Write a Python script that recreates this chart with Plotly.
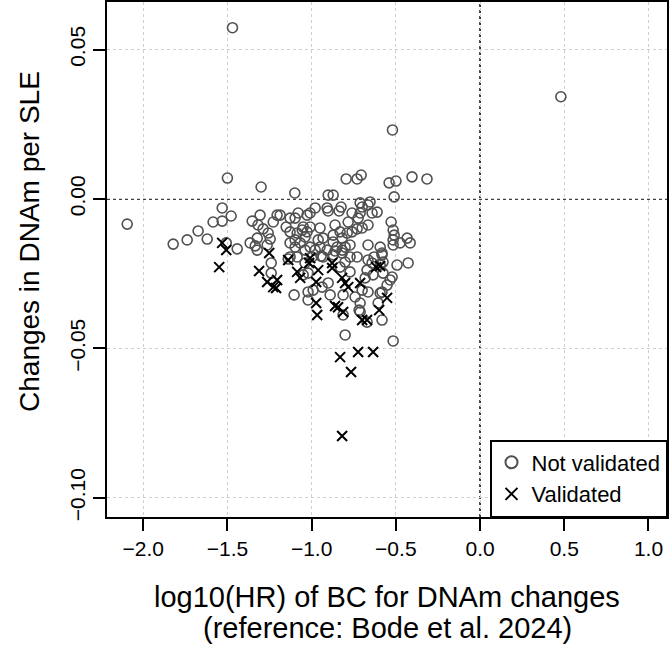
import plotly.graph_objects as go

# Not validated (open circles)
not_val_x = [-1.47, 0.48, -0.52, -1.50, -1.30, -1.10, -0.795, -0.73, -0.706, -0.54, -0.499, -0.404, -0.315, -0.51, -0.902, -0.872,
             -2.095, -1.531, -1.478, -1.585, -1.531, -1.674, -1.62, -1.739, -1.822, -1.442, -1.507,
             -1.353, -1.306, -1.205, -1.228, -1.318, -1.288, -1.258, -1.323, -1.246, -1.365, -1.335, -1.323, -1.264, -1.24, -1.24, -1.139,
             -1.187, -1.128, -1.098, -1.08, -1.009, -0.979, -0.908, -0.902, -0.837, -0.825, -0.712, -0.70, -0.653, -0.665, -0.641, -0.611,
             -0.528, -0.712, -0.76, -0.783, -0.724, -0.861, -0.95, -1.009, -1.05, -1.086, -1.128, -1.098, -1.039, -1.056, -1.027, -1.151,
             -0.872, -0.831, -0.789, -0.76, -0.73, -0.70, -0.665, -0.872, -0.819, -0.801, -0.772, -0.849, -0.861, -0.819, -0.932, -0.961,
             -0.95, -0.979, -1.009, -1.098, -1.128, -1.068, -1.039, -0.932, -0.908, -0.772, -0.801, -0.73, -0.665, -0.641, -0.593, -0.576,
             -0.582, -0.516, -0.51, -0.516, -0.475, -0.433, -0.415, -0.493, -0.427, -0.665, -0.593, -0.516,
             -1.128, -1.086, -1.039, -1.021, -1.104, -1.021, -1.021, -0.997, -0.944, -0.872, -0.819, -1.05, -0.991, -0.938, -0.902, -0.89,
             -0.813, -0.772, -0.831, -0.742, -0.712, -0.718, -0.70, -0.665, -0.682, -0.671, -0.635, -0.629, -0.582, -0.576, -0.593, -0.605,
             -0.582, -0.552, -0.534, -0.522, -0.813, -0.801, -0.516, -0.671, -0.712, -0.582, -1.027]
not_val_y = [0.0573, 0.0342, 0.0231, 0.0070, 0.0040, 0.0020, 0.0067, 0.0067, 0.0080, 0.0054, 0.0060, 0.0074, 0.0067, 0.0007, 0.0013, 0.0013,
             -0.0084, -0.0030, -0.0057, -0.0077, -0.0074, -0.0107, -0.0134, -0.0137, -0.0151, -0.0167, -0.0147,
             -0.0074, -0.0054, -0.0054, -0.0077, -0.0087, -0.0100, -0.0114, -0.0131, -0.0134, -0.0147, -0.0157, -0.0171, -0.0154, -0.0214, -0.0248, -0.0201,
             -0.0054, -0.0064, -0.0064, -0.0047, -0.0047, -0.0030, -0.0030, -0.0040, -0.0040, -0.0027, -0.0013, -0.0027, -0.0010, -0.0020, -0.0047, -0.0044,
             -0.0077, -0.0047, -0.0047, -0.0077, -0.0064, -0.0087, -0.0097, -0.0094, -0.0094, -0.0114, -0.0110, -0.0137, -0.0127, -0.0104, -0.0110, -0.0094,
             -0.0121, -0.0110, -0.0114, -0.0110, -0.0100, -0.0097, -0.0087, -0.0144, -0.0131, -0.0161, -0.0154, -0.0161, -0.0174, -0.0171, -0.0131, -0.0137,
             -0.0161, -0.0171, -0.0161, -0.0161, -0.0147, -0.0147, -0.0171, -0.0194, -0.0171, -0.0194, -0.0211, -0.0194, -0.0204, -0.0214, -0.0221, -0.0211,
             -0.0181, -0.0104, -0.0121, -0.0137, -0.0147, -0.0131, -0.0147, -0.0221, -0.0214, -0.0154, -0.0161, -0.0154,
             -0.0194, -0.0194, -0.0214, -0.0248, -0.0321, -0.0311, -0.0338, -0.0194, -0.0191, -0.0187, -0.0181, -0.0254, -0.0305, -0.0295, -0.0281, -0.0321,
             -0.0321, -0.0244, -0.0228, -0.0328, -0.0348, -0.0372, -0.0305, -0.0311, -0.0264, -0.0238, -0.0254, -0.0194, -0.0187, -0.0248, -0.0315, -0.0348,
             -0.0405, -0.0288, -0.0271, -0.0261, -0.0388, -0.0455, -0.0475, -0.0412, -0.0378, -0.0311, -0.0054]

# Validated (crosses)
val_x = [-1.531, -1.507, -1.549, -1.252, -1.139, -1.312, -1.264, -1.228, -1.211, -1.205, -1.086, -1.068, -1.015, -0.961, -0.973,
         -0.973, -0.967, -1.009, -0.878, -0.878, -0.819, -0.801, -0.783, -0.712, -0.70, -0.671, -0.593, -0.617, -0.552, -0.599,
         -0.861, -0.843, -0.813, -0.831, -0.724, -0.635, -0.766, -0.819]
val_y = [-0.0147, -0.0171, -0.0228, -0.0181, -0.0204, -0.0241, -0.0278, -0.0295, -0.0298, -0.0271, -0.0244, -0.0264, -0.0214, -0.0238, -0.0278,
         -0.0348, -0.0388, -0.0198, -0.0214, -0.0231, -0.0264, -0.0281, -0.0295, -0.0281, -0.0405, -0.0405, -0.0224, -0.0228, -0.0331, -0.0372,
         -0.0358, -0.0362, -0.0378, -0.0529, -0.0512, -0.0512, -0.0579, -0.0793]

x_range = [-2.215, 1.11]
y_range = [-0.1064, 0.0659]

x_title_1 = "log10(HR) of BC for DNAm changes"
x_title_2 = "(reference: Bode et al. 2024)"
y_title = "Changes in DNAm per SLE"

FONT = "Liberation Sans, Arial, Helvetica, sans-serif"

fig = go.Figure()
fig.add_trace(go.Scatter(
    x=not_val_x, y=not_val_y, mode="markers", name="Not validated",
    marker=dict(symbol="circle-open", size=10, color="#505050", line=dict(width=1.6, color="#505050")),
))
fig.add_trace(go.Scatter(
    x=val_x, y=val_y, mode="markers", name="Validated",
    marker=dict(symbol="x-thin-open", size=10, color="black", line=dict(width=2, color="black")),
))

# dotted reference lines at 0
fig.add_shape(type="line", xref="x", yref="paper", x0=0, x1=0, y0=0, y1=1,
              line=dict(color="black", width=1.5, dash="dot"), layer="below")
fig.add_shape(type="line", xref="paper", yref="y", x0=0, x1=1, y0=0, y1=0,
              line=dict(color="black", width=1.5, dash="dot"), layer="below")

axis_common = dict(
    showline=True, linecolor="black", linewidth=1.5, mirror=True,
    ticks="outside", ticklen=12, tickwidth=1.5, tickcolor="black",
    showgrid=True, gridcolor="#cfcfcf", gridwidth=1, griddash="dot",
    zeroline=False, tickfont=dict(size=21, color="black", family=FONT),
)

fig.update_xaxes(range=x_range, tick0=0, dtick=0.5, tickformat=".1f", **axis_common)
fig.update_yaxes(range=y_range, tick0=0, dtick=0.05, tickformat=".2f", tickangle=-90, **axis_common)

# axis titles as annotations for precise placement
title_font = dict(size=29, color="black", family=FONT)
fig.add_annotation(text=x_title_1, xref="paper", yref="paper", x=0.5, y=-0.1553,
                   xanchor="center", yanchor="middle", showarrow=False, font=title_font)
fig.add_annotation(text=x_title_2, xref="paper", yref="paper", x=0.5, y=-0.2155,
                   xanchor="center", yanchor="middle", showarrow=False, font=title_font)
fig.add_annotation(text=y_title, xref="paper", yref="paper", x=-0.1375, y=0.534,
                   xanchor="center", yanchor="middle", showarrow=False, textangle=-90,
                   font=dict(size=28, color="black", family=FONT))

fig.update_layout(
    width=672, height=652,
    margin=dict(l=107, r=5, t=2, b=135, autoexpand=False),
    plot_bgcolor="white", paper_bgcolor="white",
    font=dict(family=FONT, color="black"),
    showlegend=True,
    legend=dict(x=1, xanchor="right", y=0, yanchor="bottom",
                bordercolor="black", borderwidth=1.5, bgcolor="white",
                font=dict(size=22, color="black", family=FONT),
                itemsizing="constant", tracegroupgap=0),
)

fig.write_html("out.html")
